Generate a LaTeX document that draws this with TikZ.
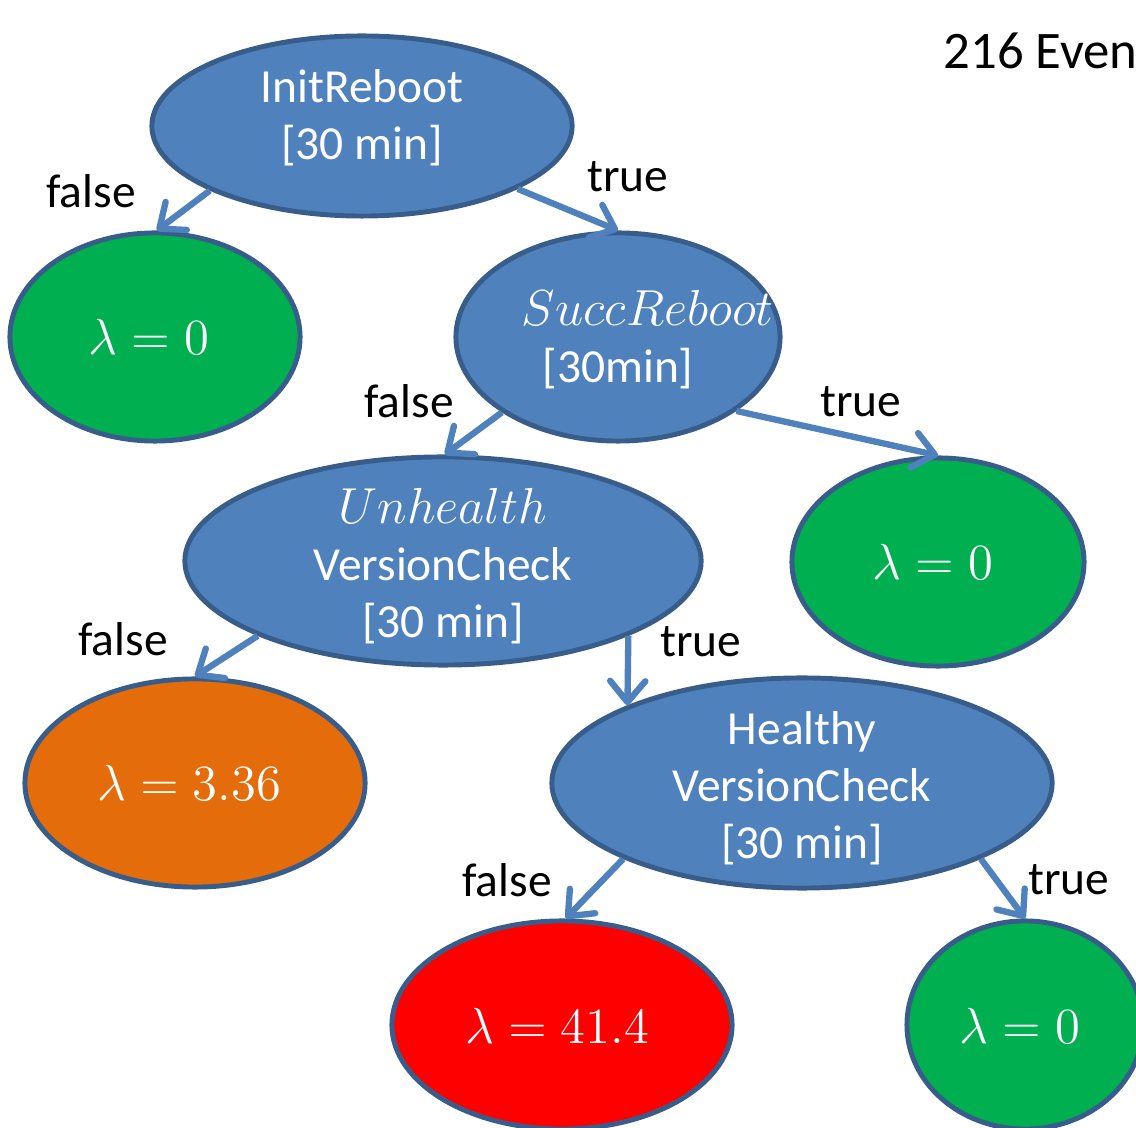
\documentclass[tikz,border=0pt]{standalone}
\usepackage{fontspec}
\setmainfont{Carlito}
\usetikzlibrary{shapes.geometric,arrows.meta}
\definecolor{nodeblue}{HTML}{4F81BD}
\definecolor{rimblue}{HTML}{385D8A}
\definecolor{leafgreen}{HTML}{00B050}
\definecolor{leaforange}{HTML}{E46C0A}
\definecolor{leafred}{HTML}{FF0000}
\tikzset{
  oval/.style={ellipse, draw=rimblue, line width=1.4pt, inner sep=0pt},
  test/.style={oval, fill=nodeblue},
  leaf/.style={oval, fill=#1},
  txt/.style={text=white, align=center, inner sep=0pt,
    font=\fontsize{13.5}{16.2}\selectfont},
  lbl/.style={anchor=base, inner sep=0pt, font=\fontsize{13.5}{16.2}\selectfont},
  branch/.style={draw=nodeblue, line width=1.8pt,
    -{Straight Barb[length=6pt,width=10pt,round]}},
}
\begin{document}
\begin{tikzpicture}[x=0.01cm, y=-0.01cm]
\useasboundingbox (0,0) rectangle (1136,1128);
\clip (0,0) rectangle (1136,1128);

% decision nodes
\node[test, minimum width=4.2cm, minimum height=1.8cm] (init) at (362,126) {};
\node[test, minimum width=3.24cm, minimum height=2.08cm] (succ) at (618,337) {};
\node[test, minimum width=5.16cm, minimum height=2.08cm] (unh) at (443,561) {};
\node[test, minimum width=5.0cm, minimum height=2.1cm] (hea) at (802,783) {};

% leaves
\node[leaf=leafgreen, minimum width=2.9cm, minimum height=2.08cm] (g1) at (155,337) {};
\node[leaf=leafgreen, minimum width=2.92cm, minimum height=2.08cm] (g2) at (938,562) {};
\node[leaf=leaforange, minimum width=3.4cm, minimum height=2.08cm] (orn) at (195,783) {};
\node[leaf=leafred, minimum width=3.4cm, minimum height=2.08cm] (red) at (562,1025) {};
\node[leaf=leafgreen, minimum width=2.36cm, minimum height=2.08cm] (g3) at (1025,1025) {};

% texts inside the nodes
\node[txt] (init-t) at (362,118) {InitReboot\\{}[30 min]};
\node[txt] (succ-t) at (618,340) {\hspace*{0.6cm}$SuccReboot$\\{}[30min]};
\node[txt] (unh-t) at (443,566) {$Unhealth$\\VersionCheck\\{}[30 min]};
\node[txt] (hea-t) at (802,788) {Healthy\\VersionCheck\\{}[30 min]};
\node[txt] (g1-t) at (149,337) {$\lambda = 0$};
\node[txt] (g2-t) at (933,562) {$\lambda = 0$};
\node[txt] (orn-t) at (189,783) {$\lambda = 3.36$};
\node[txt] (red-t) at (557,1026) {$\lambda = 41.4$};
\node[txt] (g3-t) at (1020,1026) {$\lambda = 0$};

% branches
\draw[branch] (init.203) -- (g1.89);
\draw[branch] (init.-22) -- (succ.north);
\draw[branch] (succ.213) -- (unh.89);
\draw[branch] (succ.-32) -- (g2.north);
\draw[branch] (unh.202) -- (orn.north);
\draw[branch] (unh.-22) -- (hea.156);
\draw[branch] (hea.203) -- (red.88);
\draw[branch] (hea.-23) -- (g3.north);

% branch labels
\node[lbl] (l1) at (91,208) {false};
\node[lbl] (l2) at (628,192) {true};
\node[lbl] (l3) at (409,418) {false};
\node[lbl] (l4) at (861,417) {true};
\node[lbl] (l5) at (123,656) {false};
\node[lbl] (l6) at (701,657) {true};
\node[lbl] (l7) at (507,897) {false};
\node[lbl] (l8) at (1069,895) {true};

% heading
\node[anchor=base west, inner sep=0pt, font=\fontsize{15}{18}\selectfont]
  (title) at (943,69) {216 Even};
\end{tikzpicture}
\end{document}
